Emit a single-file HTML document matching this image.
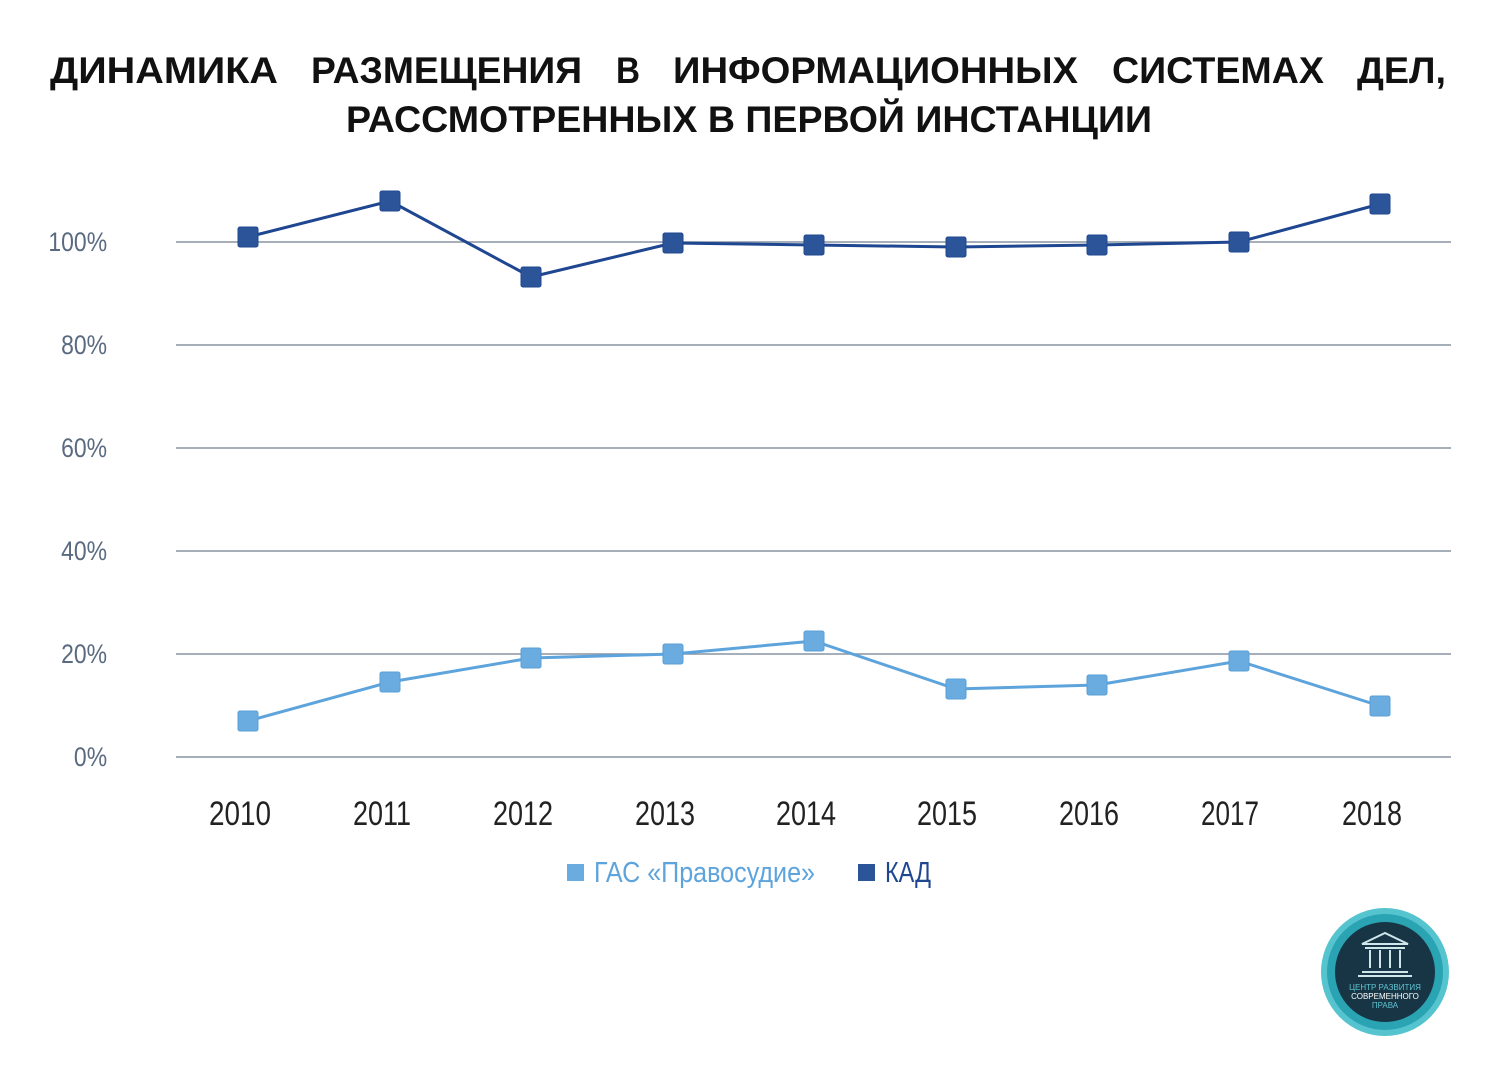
<!DOCTYPE html>
<html><head><meta charset="utf-8"><style>
body{margin:0;background:#fff;width:1500px;height:1081px;overflow:hidden;font-family:"Liberation Sans",sans-serif}
</style></head><body>
<svg width="1500" height="1081" viewBox="0 0 1500 1081" xmlns="http://www.w3.org/2000/svg">
<g font-family="Liberation Sans, sans-serif" font-weight="bold" font-size="37" fill="#111">
<text x="50" y="83" textLength="228" lengthAdjust="spacingAndGlyphs">ДИНАМИКА</text>
<text x="311" y="83" textLength="271" lengthAdjust="spacingAndGlyphs">РАЗМЕЩЕНИЯ</text>
<text x="616" y="83" textLength="24" lengthAdjust="spacingAndGlyphs">В</text>
<text x="673" y="83" textLength="405" lengthAdjust="spacingAndGlyphs">ИНФОРМАЦИОННЫХ</text>
<text x="1112" y="83" textLength="212" lengthAdjust="spacingAndGlyphs">СИСТЕМАХ</text>
<text x="1357" y="83" textLength="89" lengthAdjust="spacingAndGlyphs">ДЕЛ,</text>
<text x="749" y="132" text-anchor="middle" textLength="806" lengthAdjust="spacingAndGlyphs">РАССМОТРЕННЫХ В ПЕРВОЙ ИНСТАНЦИИ</text>
</g>
<g stroke="#8893a3" stroke-width="1.5">
<line x1="176" x2="1451" y1="242" y2="242"/><line x1="176" x2="1451" y1="345" y2="345"/>
<line x1="176" x2="1451" y1="448" y2="448"/><line x1="176" x2="1451" y1="551" y2="551"/>
<line x1="176" x2="1451" y1="654" y2="654"/><line x1="176" x2="1451" y1="757" y2="757"/>
</g>
<g font-size="27" fill="#5a6a80" text-anchor="end" transform="scale(0.85,1)">
<text x="126" y="251">100%</text><text x="126" y="354">80%</text><text x="126" y="457">60%</text>
<text x="126" y="560">40%</text><text x="126" y="663">20%</text><text x="126" y="766">0%</text>
</g>
<g font-size="34" fill="#222" text-anchor="middle">
<text x="240" y="825" textLength="62" lengthAdjust="spacingAndGlyphs">2010</text>
<text x="382" y="825" textLength="58" lengthAdjust="spacingAndGlyphs">2011</text>
<text x="523" y="825" textLength="60" lengthAdjust="spacingAndGlyphs">2012</text>
<text x="665" y="825" textLength="60" lengthAdjust="spacingAndGlyphs">2013</text>
<text x="806" y="825" textLength="60" lengthAdjust="spacingAndGlyphs">2014</text>
<text x="947" y="825" textLength="60" lengthAdjust="spacingAndGlyphs">2015</text>
<text x="1089" y="825" textLength="60" lengthAdjust="spacingAndGlyphs">2016</text>
<text x="1230" y="825" textLength="58" lengthAdjust="spacingAndGlyphs">2017</text>
<text x="1372" y="825" textLength="60" lengthAdjust="spacingAndGlyphs">2018</text>
</g>
<polyline fill="none" stroke="#1f4690" stroke-width="3" points="248,237 390,201 531,277 673,243 814,245 956,247 1097,245 1239,242 1380,204"/>
<g fill="#2b5598" stroke="#1f4690" stroke-width="1">
<rect x="238" y="227" width="20" height="20" rx="2"/><rect x="380" y="191" width="20" height="20" rx="2"/>
<rect x="521" y="267" width="20" height="20" rx="2"/><rect x="663" y="233" width="20" height="20" rx="2"/>
<rect x="804" y="235" width="20" height="20" rx="2"/><rect x="946" y="237" width="20" height="20" rx="2"/>
<rect x="1087" y="235" width="20" height="20" rx="2"/><rect x="1229" y="232" width="20" height="20" rx="2"/>
<rect x="1370" y="194" width="20" height="20" rx="2"/>
</g>
<polyline fill="none" stroke="#5ea4dc" stroke-width="3" points="248,721 390,682 531,658 673,654 814,641 956,689 1097,685 1239,661 1380,706"/>
<g fill="#6aabe0" stroke="#5a9fd6" stroke-width="1">
<rect x="238" y="711" width="20" height="20" rx="2"/><rect x="380" y="672" width="20" height="20" rx="2"/>
<rect x="521" y="648" width="20" height="20" rx="2"/><rect x="663" y="644" width="20" height="20" rx="2"/>
<rect x="804" y="631" width="20" height="20" rx="2"/><rect x="946" y="679" width="20" height="20" rx="2"/>
<rect x="1087" y="675" width="20" height="20" rx="2"/><rect x="1229" y="651" width="20" height="20" rx="2"/>
<rect x="1370" y="696" width="20" height="20" rx="2"/>
</g>
<rect x="567" y="864" width="17" height="17" fill="#6aabe0"/>
<text x="594" y="882" font-size="29" fill="#5ea4dc" textLength="221" lengthAdjust="spacingAndGlyphs">ГАС «Правосудие»</text>
<rect x="858" y="864" width="17" height="17" fill="#2b5598"/>
<text x="885" y="882" font-size="29" fill="#1f4690" textLength="46" lengthAdjust="spacingAndGlyphs">КАД</text>
<circle cx="1385" cy="972" r="61" fill="#2aa3b3"/>
<circle cx="1385" cy="972" r="61" fill="none" stroke="#55c4cf" stroke-width="6"/>
<circle cx="1385" cy="972" r="50" fill="#173545"/>
<g stroke="#cfe6ea" stroke-width="2" fill="none">
<path d="M1362 944 L1385 933 L1408 944 Z"/>
<line x1="1365" y1="948" x2="1405" y2="948"/>
<line x1="1370" y1="950" x2="1370" y2="968"/><line x1="1380" y1="950" x2="1380" y2="968"/>
<line x1="1390" y1="950" x2="1390" y2="968"/><line x1="1400" y1="950" x2="1400" y2="968"/>
<line x1="1362" y1="972" x2="1408" y2="972"/><line x1="1358" y1="976" x2="1412" y2="976"/>
</g>
<g font-size="8" text-anchor="middle" font-family="Liberation Sans, sans-serif">
<text x="1385" y="990" fill="#5fc6d2">ЦЕНТР РАЗВИТИЯ</text>
<text x="1385" y="999" fill="#fff">СОВРЕМЕННОГО</text>
<text x="1385" y="1008" fill="#5fc6d2">ПРАВА</text>
</g>
</svg>
</body></html>
